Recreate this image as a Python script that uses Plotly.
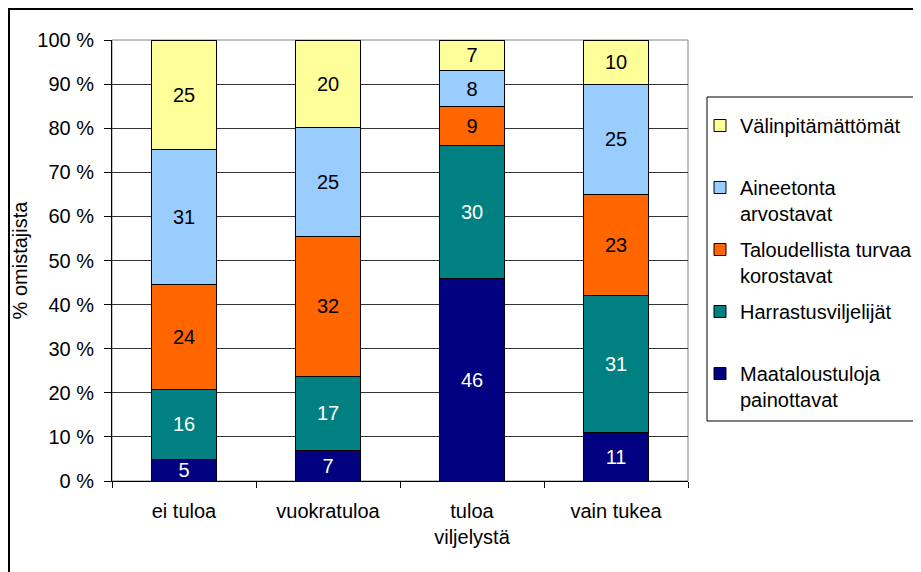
import plotly.graph_objects as go

categories = ["ei tuloa", "vuokratuloa", "tuloa<br>viljelystä", "vain tukea"]
series_names = [
    "Maataloustuloja<br>painottavat",
    "Harrastusviljelijät<br> ",
    "Taloudellista turvaa<br>korostavat",
    "Aineetonta<br>arvostavat",
    "Välinpitämättömät<br> ",
]
maatalous = [5, 7, 46, 11]
harrastus = [16, 17, 30, 31]
taloudellista = [24, 32, 9, 23]
aineetonta = [31, 25, 8, 25]
valinpitamattomat = [25, 20, 7, 10]
series_values = [maatalous, harrastus, taloudellista, aineetonta, valinpitamattomat]
colors = ["#000080", "#008080", "#FF6600", "#99CCFF", "#FFFF99"]
text_colors = ["white", "white", "black", "black", "black"]
y_ticks = list(range(0, 101, 10))
y_tick_labels = [f"{v} %" for v in y_ticks]

FONT = "Liberation Sans, Arial, sans-serif"

fig = go.Figure()
n = len(series_names)
for i, (name, vals) in enumerate(zip(series_names, series_values)):
    fig.add_trace(go.Bar(
        x=categories, y=vals, name=name,
        marker=dict(color=colors[i], line=dict(color="black", width=1)),
        text=[str(v) for v in vals], textposition="inside",
        insidetextanchor="middle", textangle=0,
        textfont=dict(size=20, color=text_colors[i], family=FONT),
        width=0.45, legendgroup=f"g{i}", legendrank=n - i,
    ))

# The page body adds an 8px offset; figure coordinates are screen - 8.
OFF = 8
W, H = 921, 572
L, T = 104, 32
R = W - 680
B = H - 473
pw, ph = W - L - R, H - T - B

def px_x(x):
    return (x - OFF - L) / pw

def px_y(y):
    return (H - B - (y - OFF)) / ph

fig.update_layout(
    width=W, height=H,
    margin=dict(l=L, r=R, t=T, b=B, autoexpand=False),
    barmode="stack", barnorm="percent",
    plot_bgcolor="white", paper_bgcolor="white",
    font=dict(family=FONT, size=20, color="black"),
    uniformtext=dict(mode="show", minsize=20),
    showlegend=True,
    legend=dict(
        x=px_x(700), y=px_y(106), xanchor="left", yanchor="top",
        traceorder="grouped", valign="top",
        borderwidth=0, bgcolor="rgba(0,0,0,0)",
        font=dict(size=20, family=FONT), tracegroupgap=7,
    ),
    shapes=[
        dict(type="rect", xref="paper", yref="paper", x0=0, x1=1, y0=0, y1=1,
             line=dict(color="#808080", width=1), layer="below"),
        dict(type="rect", xref="paper", yref="paper",
             x0=px_x(9), x1=px_x(960), y0=px_y(620), y1=px_y(9),
             line=dict(color="black", width=2)),
        dict(type="rect", xref="paper", yref="paper",
             x0=px_x(707), x1=px_x(918), y0=px_y(421), y1=px_y(97),
             line=dict(color="black", width=1), layer="below"),
    ],
)
fig.update_xaxes(
    showline=True, linecolor="black", linewidth=1,
    ticks="outside", tickson="boundaries", ticklen=6, tickcolor="black",
    showgrid=False, tickfont=dict(size=20), ticklabelstandoff=12,
)
fig.update_yaxes(
    range=[0, 100], tickmode="array", tickvals=y_ticks, ticktext=y_tick_labels,
    showline=True, linecolor="black", linewidth=1,
    ticks="outside", ticklen=7, tickcolor="black",
    showgrid=True, gridcolor="#333333", gridwidth=1,
    tickfont=dict(size=20), ticklabelstandoff=6,
    title=dict(text="% omistajista", font=dict(size=20), standoff=4),
    zeroline=False,
)

fig.write_html("out.html")
